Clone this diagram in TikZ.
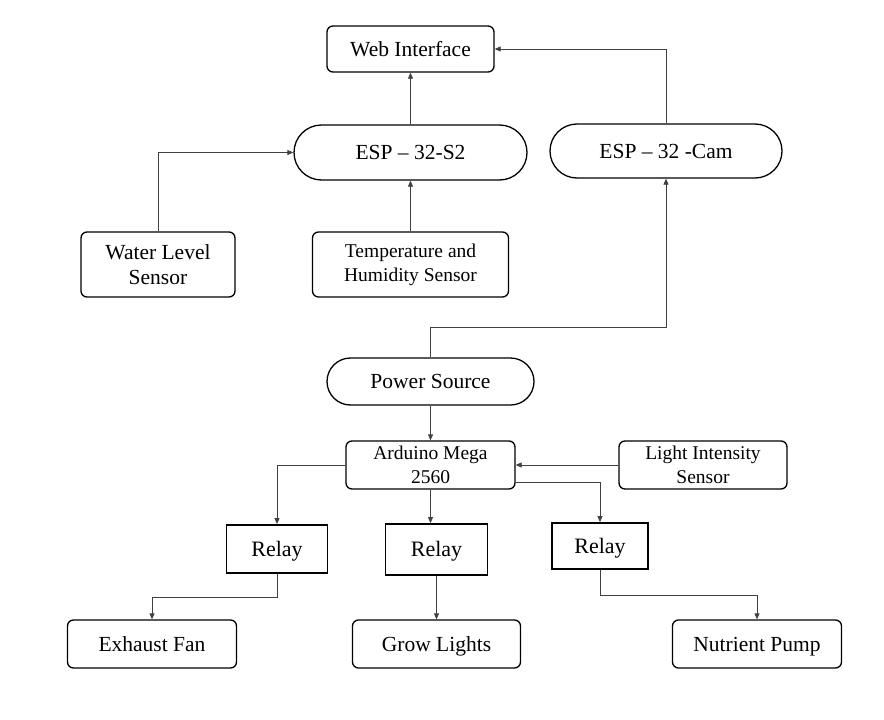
\documentclass[tikz,border=0pt]{standalone}
\usepackage{fontspec}
\setmainfont{Liberation Serif}
\usetikzlibrary{arrows.meta,shapes.misc}
\begin{document}
\begin{tikzpicture}[x=1pt,y=-1pt,
  base/.style={draw=black, line width=1.3pt, inner sep=0pt, font=\fontsize{21.5}{25}\selectfont},
  box/.style={base, rounded corners=6pt, align=center},
  onebox/.style={base, rounded corners=6pt, text height=14.2pt, text depth=0pt},
  stadium/.style={base, rounded rectangle, text height=14.2pt, text depth=0pt},
  relaybox/.style={base, line width=1.8pt, font=\fontsize{22}{26}\selectfont, text height=14.5pt, text depth=0pt},
  small/.style={font=\fontsize{19.5}{24}\selectfont},
  conn/.style={draw=black!75, line width=0.8pt},
  arr/.style={conn, -{Triangle[length=6pt,width=5pt]}}
]
\useasboundingbox (0,0) rectangle (884,720);

\node[onebox, minimum width=167pt, minimum height=46pt] (web) at (410.5,49) {Web Interface};
\node[stadium, minimum width=233pt, minimum height=55pt] (esps2) at (410.5,152.5) {ESP -- 32-S2};
\node[stadium, minimum width=232pt, minimum height=54pt] (espcam) at (666,151) {ESP -- 32 -Cam};
\node[box, minimum width=154pt, minimum height=65pt] (wls) at (158,264.5) {Water Level\\Sensor};
\node[box, small, minimum width=196pt, minimum height=65pt] (temp) at (410.5,264.5) {Temperature and\\Humidity Sensor};
\node[stadium, minimum width=207pt, minimum height=47pt] (ps) at (430.5,381.5) {Power Source};
\node[box, small, minimum width=169pt, minimum height=48pt] (ard) at (430.5,465) {Arduino Mega\\2560};
\node[box, small, minimum width=168pt, minimum height=48pt] (lis) at (703,465) {Light Intensity\\Sensor};
\node[relaybox, minimum width=101pt, minimum height=48pt] (r1) at (277,549) {Relay};
\node[relaybox, minimum width=102pt, minimum height=51pt] (r2) at (436.5,549.5) {Relay};
\node[relaybox, minimum width=96pt, minimum height=46pt] (r3) at (600,546) {Relay};
\node[onebox, minimum width=169pt, minimum height=48pt] (fan) at (152,644) {Exhaust Fan};
\node[onebox, minimum width=168pt, minimum height=48pt] (grow) at (436.5,644) {Grow Lights};
\node[onebox, minimum width=169pt, minimum height=48pt] (pump) at (757,644) {Nutrient Pump};

\coordinate (j1) at (666,327);
\coordinate (b1) at (277,597);
\coordinate (b3) at (600,595);

\draw[arr] (esps2.north) -- (web.south);
\draw[arr] (espcam.north) |- (web.east);
\draw[arr] (wls.north) |- (esps2.west);
\draw[arr] (temp.north) -- (esps2.south);
\draw[arr] (ps.north) |- (j1) -- (espcam.south);
\draw[arr] (ps.south) -- (ard.north);
\draw[arr] (lis.west) -- (ard.east);
\draw[arr] (ard.west) -| (r1.north);
\draw[arr] (ard.south) -- (ard.south |- r2.north);
\draw[arr] ([yshift=7pt]ard.south east) -| (r3.north);
\draw[arr] (r1.south) -- (b1) -| (fan.north);
\draw[arr] (r2.south) -- (grow.north);
\draw[arr] (r3.south) -- (b3) -| (pump.north);
\end{tikzpicture}
\end{document}
